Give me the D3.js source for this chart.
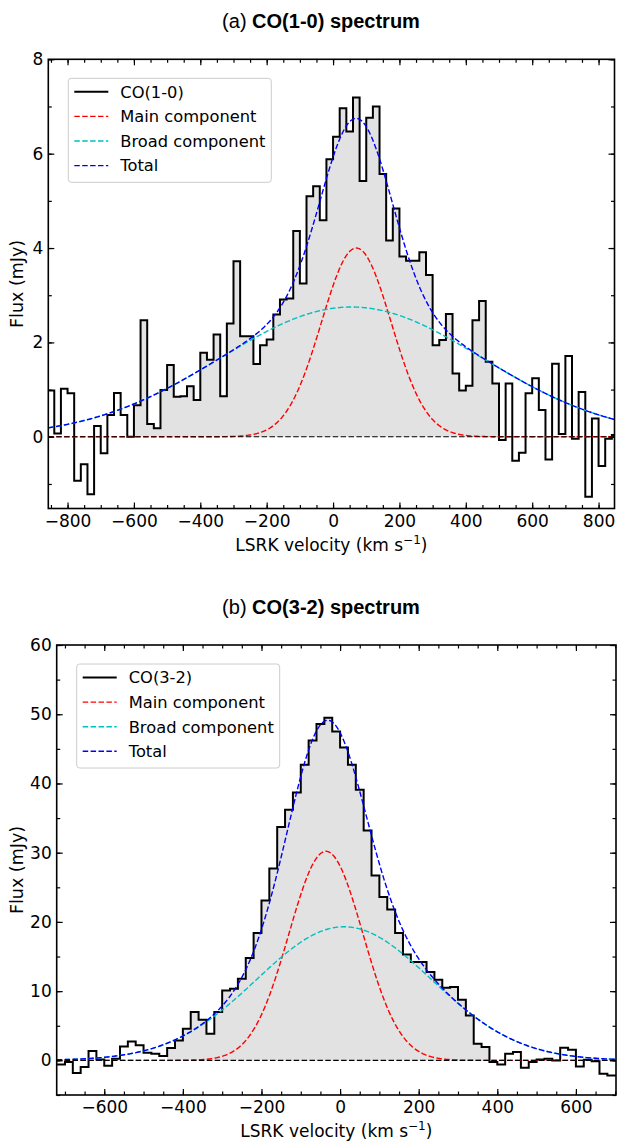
<!DOCTYPE html>
<html>
<head>
<meta charset="utf-8">
<style>
  body { margin: 0; background: #fff; }
  svg text { font-family: "DejaVu Sans", sans-serif; fill: #000; }
  .title { font-family: "Liberation Sans", Arial, sans-serif; }
</style>
</head>
<body>
<svg id="chart" width="617" height="1141"></svg>
<script src="https://d3js.org/d3.v7.min.js"></script>
<script>
// CO(1-0): channels start at -860 km/s, 20 km/s wide; flux in mJy
var co10Start = -860, co10Width = 20;
var co10Flux = [0.98, 0.07, 1.02, 0.92, -0.93, -0.58, -1.22, 0.23, -0.35, 0.46,
  0.93, 0.46, 0.0, 0.67, 2.47, 0.27, 0.18, 0.99, 1.52, 0.85,
  0.86, 1.07, 0.78, 1.78, 1.63, 2.17, 0.86, 2.40, 3.72, 2.13,
  2.13, 1.54, 1.94, 2.06, 2.59, 2.91, 2.93, 4.36, 3.25, 5.10,
  5.31, 4.59, 5.88, 6.36, 6.96, 6.47, 7.19, 5.42, 6.76, 7.00,
  5.57, 4.16, 4.84, 3.82, 3.73, 3.73, 3.91, 3.43, 1.94, 2.05,
  2.60, 1.34, 0.98, 1.08, 2.47, 2.88, 1.59, 1.13, -0.07, 1.13,
  -0.51, -0.34, 0.92, 1.24, 0.57, -0.48, 1.55, 0.06, 1.71, -0.04,
  0.95, -1.27, 0.39, -0.62, -0.04, 0.04];

// CO(3-2): channels start at -720 km/s, 20 km/s wide
var co32Start = -720, co32Width = 20;
var co32Flux = [-0.58, -0.24, -1.83, -0.96, 1.35, 0.14, -0.77, 0.24, 2.02,
  2.74, 2.17, 1.11, 0.96, 0.63, 1.78, 2.89, 4.57, 6.98,
  5.87, 3.85, 6.98, 10.1, 10.35, 11.8, 14.8, 18.4, 23.1,
  27.7, 33.7, 36.2, 38.7, 42.7, 46.2, 48.6, 49.5, 47.5,
  45.2, 42.7, 39.1, 33.2, 26.7, 23.6, 21.8, 18.4, 15.3,
  14.2, 14.2, 12.75, 11.65, 10.5, 10.6, 8.76, 6.5, 2.41,
  1.92, -0.24, -0.58, 0.96, 1.2, -1.06, -0.24, 0.14, 0.24,
  0.0, 1.83, 1.54, -0.87, 0.1, -0.14, -1.92, -2.17, -2.17];

// gaussian fits: [amplitude, centre, sigma]
var co10Main = [4.0, 70, 105];
var co10Broad = [2.75, 55, 395];
var co32Main = [30.2, -36, 94];
var co32Broad = [19.3, 10, 222];

// velocity range shaded under the line
var co10Fill = [-600, 500];
var co32Fill = [-440, 380];

var co10XTicks = [-800, -600, -400, -200, 0, 200, 400, 600, 800];
var co10YTicks = [0, 2, 4, 6, 8];
var co32XTicks = [-600, -400, -200, 0, 200, 400, 600];
var co32YTicks = [0, 10, 20, 30, 40, 50, 60];

var legendNames = ["Main component", "Broad component", "Total"];

var svg = d3.select("#chart");

function gauss(p, v) {
  return p[0] * Math.exp(-(v - p[1]) * (v - p[1]) / (2 * p[2] * p[2]));
}

function panel(o) {
  var x = d3.scaleLinear().domain(o.xDomain).range([o.left, o.right]);
  var y = d3.scaleLinear().domain(o.yDomain).range([o.bottom, o.top]);
  var w = o.right - o.left, h = o.bottom - o.top;

  svg.append("clipPath").attr("id", o.id + "clip")
    .append("rect").attr("x", o.left).attr("y", o.top).attr("width", w).attr("height", h);

  var g = svg.append("g").attr("clip-path", "url(#" + o.id + "clip)");

  var pts = o.flux.map(function(f, i) { return [o.start + i * o.width, f]; });
  pts.push([o.start + o.flux.length * o.width, o.flux[o.flux.length - 1]]);

  // shaded region under the line
  var fillPts = pts.filter(function(p) {
    return p[0] >= o.fill[0] && p[0] <= o.fill[1];
  });
  var area = d3.area().curve(d3.curveStepAfter)
    .x(function(d) { return x(d[0]); })
    .y0(y(0)).y1(function(d) { return y(d[1]); });
  g.append("path").attr("d", area(fillPts)).attr("fill", "#e2e2e2");

  // spectrum
  var step = d3.line().curve(d3.curveStepAfter)
    .x(function(d) { return x(d[0]); }).y(function(d) { return y(d[1]); });
  g.append("path").attr("d", step(pts)).attr("fill", "none")
    .attr("stroke", "#000").attr("stroke-width", 2);

  // fits
  var vs = d3.range(o.xDomain[0], o.xDomain[1] + 2, 2);
  var fit = d3.line().x(function(d) { return x(d[0]); }).y(function(d) { return y(d[1]); });
  var curves = [
    { c: "#ff0000", f: function(v) { return gauss(o.main, v); } },
    { c: "#00bfbf", f: function(v) { return gauss(o.broad, v); } },
    { c: "#0000ff", f: function(v) { return gauss(o.main, v) + gauss(o.broad, v); } }
  ];
  curves.forEach(function(cv) {
    g.append("path").attr("d", fit(vs.map(function(v) { return [v, cv.f(v)]; })))
      .attr("fill", "none").attr("stroke", cv.c).attr("stroke-width", 1.4)
      .attr("stroke-dasharray", "5.5,2.4");
  });

  // zero line on top, so red shows through its gaps
  g.append("line").attr("x1", o.left).attr("x2", o.right)
    .attr("y1", y(0)).attr("y2", y(0))
    .attr("stroke", "#000").attr("stroke-width", 1.1).attr("stroke-dasharray", "5.5,2.4");

  // axes, ticks pointing in on all sides
  var xMinor = d3.range(Math.ceil(o.xDomain[0] / 50) * 50, o.xDomain[1], 50);
  var yMinor = d3.range(Math.ceil(o.yDomain[0] / o.yMinor) * o.yMinor, o.yDomain[1] + 0.001, o.yMinor);

  function addAxis(axis, tr) {
    var a = svg.append("g").attr("transform", tr).call(axis);
    a.select(".domain").remove();
    a.selectAll("line").attr("stroke-width", 1.2);
    a.selectAll("text").attr("font-size", 17).attr("font-family", "DejaVu Sans");
    return a;
  }
  addAxis(d3.axisBottom(x).tickValues(o.xTicks).tickSizeInner(-6).tickSizeOuter(0).tickPadding(6), "translate(0," + o.bottom + ")");
  addAxis(d3.axisBottom(x).tickValues(xMinor).tickSizeInner(-3.5).tickSizeOuter(0).tickFormat(""), "translate(0," + o.bottom + ")");
  addAxis(d3.axisTop(x).tickValues(o.xTicks).tickSizeInner(-6).tickSizeOuter(0).tickFormat(""), "translate(0," + o.top + ")");
  addAxis(d3.axisTop(x).tickValues(xMinor).tickSizeInner(-3.5).tickSizeOuter(0).tickFormat(""), "translate(0," + o.top + ")");
  addAxis(d3.axisLeft(y).tickValues(o.yTicks).tickSizeInner(-6).tickSizeOuter(0).tickPadding(5), "translate(" + o.left + ",0)");
  addAxis(d3.axisLeft(y).tickValues(yMinor).tickSizeInner(-3.5).tickSizeOuter(0).tickFormat(""), "translate(" + o.left + ",0)");
  addAxis(d3.axisRight(y).tickValues(o.yTicks).tickSizeInner(-6).tickSizeOuter(0).tickFormat(""), "translate(" + o.right + ",0)");
  addAxis(d3.axisRight(y).tickValues(yMinor).tickSizeInner(-3.5).tickSizeOuter(0).tickFormat(""), "translate(" + o.right + ",0)");

  svg.append("rect").attr("x", o.left).attr("y", o.top).attr("width", w).attr("height", h)
    .attr("fill", "none").attr("stroke", "#000").attr("stroke-width", 1.6);

  // labels
  var xl = svg.append("text").attr("x", (o.left + o.right) / 2).attr("y", o.bottom + 42)
    .attr("text-anchor", "middle").attr("font-size", 17);
  xl.append("tspan").text("LSRK velocity (km s");
  xl.append("tspan").attr("dy", -7).attr("font-size", 12).text("\u22121");
  xl.append("tspan").attr("dy", 7).text(")");

  svg.append("text").attr("transform", "translate(23," + (o.top + o.bottom) / 2 + ") rotate(-90)")
    .attr("text-anchor", "middle").attr("font-size", 17.5).text("Flux (mJy)");

  var t = svg.append("text").attr("class", "title").attr("x", 321).attr("y", o.top - 31)
    .attr("text-anchor", "middle").attr("font-size", 20);
  t.append("tspan").text(o.tag + " ");
  t.append("tspan").attr("font-weight", "bold").text(o.name + " spectrum");

  // legend
  var lx = o.left + 20, ly = o.top + 19;
  var lg = svg.append("g").attr("transform", "translate(" + lx + "," + ly + ")");
  lg.append("rect").attr("width", 203).attr("height", 104).attr("rx", 3)
    .attr("fill", "#fff").attr("fill-opacity", 0.8).attr("stroke", "#cccccc").attr("stroke-width", 1);
  var items = [{ t: o.name, c: "#000", dash: null }].concat(legendNames.map(function(n, i) {
    return { t: n, c: curves[i].c, dash: "5.5,2.4" };
  }));
  items.forEach(function(it, i) {
    var yy = 13.5 + i * 24.6;
    lg.append("line").attr("x1", 6).attr("x2", 40).attr("y1", yy).attr("y2", yy)
      .attr("stroke", it.c).attr("stroke-width", it.dash ? 1.4 : 2)
      .attr("stroke-dasharray", it.dash);
    lg.append("text").attr("x", 52).attr("y", yy).attr("dy", "0.36em")
      .attr("font-size", 16.3).text(it.t);
  });
}

panel({ id: "a", tag: "(a)", name: "CO(1-0)", flux: co10Flux, start: co10Start, width: co10Width,
  main: co10Main, broad: co10Broad, fill: co10Fill, xTicks: co10XTicks, yTicks: co10YTicks, yMinor: 1,
  xDomain: [-858, 848], yDomain: [-1.52, 8], left: 48.3, right: 614.5, top: 59.3, bottom: 508.5 });

panel({ id: "b", tag: "(b)", name: "CO(3-2)", flux: co32Flux, start: co32Start, width: co32Width,
  main: co32Main, broad: co32Broad, fill: co32Fill, xTicks: co32XTicks, yTicks: co32YTicks, yMinor: 5,
  xDomain: [-721, 702], yDomain: [-5, 60], left: 56.7, right: 616, top: 645, bottom: 1095 });
</script>
</body>
</html>
